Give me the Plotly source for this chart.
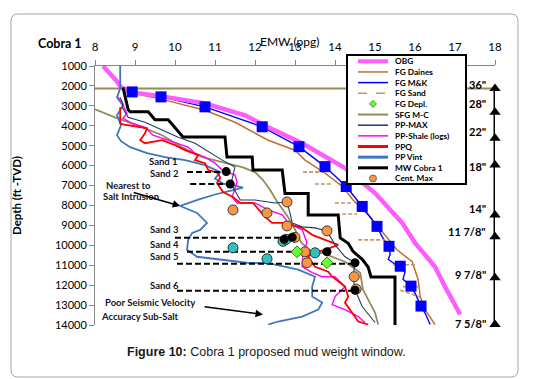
import plotly.graph_objects as go

# ---------------- data (ppg vs depth ft TVD) ----------------
obg_ppg = [8.2, 8.38, 8.53, 8.65, 8.93, 9.68, 10.75, 11.75, 12.33, 13.18, 14.25, 15.0, 15.68, 16.0, 16.5, 16.75, 17.13]
obg_depth = [1000, 1375, 1725, 2075, 2325, 2525, 2875, 3475, 4075, 4875, 6125, 7375, 8875, 9875, 11075, 12075, 13475]

daines_ppg = [8.75, 9.68, 10.75, 11.5, 12.33, 13.0, 13.25, 13.75, 14.2, 14.45, 14.88, 15.2, 15.55, 15.93, 16.08, 16.13, 16.25, 16.5]
daines_depth = [2275, 2675, 3225, 3825, 4725, 5225, 5725, 6375, 7075, 7725, 8575, 9375, 10225, 10825, 11725, 12575, 13225, 13975]

mk_ppg = [8.93, 9.65, 10.75, 12.18, 13.1, 13.75, 14.28, 14.68, 15.05, 15.35, 15.63, 15.9, 16.15]
mk_depth = [2300, 2550, 3050, 4050, 5050, 6050, 7050, 8050, 9050, 10050, 11050, 12050, 13050]
mk_line_ppg = [8.93, 9.65, 10.75, 12.18, 13.1, 13.75, 14.28, 14.68, 15.05, 15.18, 15.35, 15.38, 15.33, 15.5, 15.63,
               15.75, 15.7, 15.83, 15.9, 16.0, 16.05, 16.15, 16.25, 16.38]
mk_line_depth = [2300, 2550, 3050, 4050, 5050, 6050, 7050, 8050, 9050, 9575, 10050, 10450, 10700, 10950, 11050,
                 11350, 11700, 11950, 12050, 12400, 12650, 13050, 13400, 13975]

fgsand_ppg = [13.2, 13.7, None, 13.5, 13.95, None, 14.0, 14.43, None, 14.18, 14.55, None, 14.58, 15.25, None,
              15.45, 16.0, None, 15.7, 16.08, None, 15.63, 16.13]
fgsand_depth = [6325, 6325, None, 6925, 6925, None, 7875, 7875, None, 8425, 8425, None, 9725, 9725, None,
                10975, 10975, None, 12075, 12075, None, 12250, 12600]

depl_ppg = [13.05, 13.8]
depl_depth = [10325, 10875]

sfg_ppg = [8.0, 8.5, 9.25, 9.68, 10.18, 10.68, 11.18, 11.68, 12.0, 12.2, 12.38, 12.55, 12.8, 13.0, 13.15, 13.4,
           13.7, 14.25, 14.63, 14.7, 14.83, 15.0, 15.08]
sfg_depth = [3175, 3575, 4125, 4475, 5075, 5575, 5825, 6075, 6325, 6725, 7225, 7800, 8500, 9200, 9850, 10300,
             10400, 10825, 11375, 12225, 12725, 13375, 13975]
mudline_depth = 2125

ppmax_ppg = [8.63, 8.7, 8.68, 8.83, 9.25, 10.08, 10.5, 11.18, 11.5, 11.4, 11.63, 12.0, 12.5, 12.8, 12.88, 12.93,
             13.18, 13.5, 13.8, 14.0, 14.25, 14.5, 14.45, 14.5, 14.68, 15.0]
ppmax_depth = [2575, 2900, 3075, 3575, 3825, 4575, 4875, 5725, 6075, 6900, 7725, 7725, 7875, 7825, 8425, 8875,
               9075, 9125, 9275, 9975, 10575, 10875, 11575, 12225, 13075, 13875]

shale_ppg = [8.58, 8.68, 8.8, 8.7, 8.93, 9.25, 9.45, 9.68, 10.0, 10.33, 10.5, 10.75, 11.0, 11.18, 11.5, 11.55,
             11.43, 11.55, 12.0, 12.33, 12.68, 12.83, 13.18, 13.3, 13.2, 13.18, 13.43, 13.68, 14.0, 14.25, 14.0,
             13.93, 14.25, 14.58, 14.75]
shale_depth = [2575, 2875, 3375, 3625, 3875, 4075, 4475, 4625, 4825, 5075, 5375, 5575, 5875, 6225, 6475, 6825,
               7575, 7875, 7875, 8225, 8475, 8875, 9225, 9875, 10325, 11075, 11375, 11575, 11575, 12075, 12575,
               12975, 13225, 13575, 13875]

ppq_ppg = [8.63, 8.63, 8.7, 9.18, 9.3, 9.25, 9.13, 9.25, 9.68, 10.0, 10.25, 10.58, 10.5, 10.75, 10.83, 11.08,
           11.13, 11.05, 11.2, 11.45, 11.63, 11.95, 12.25, 12.43, 12.75, 13.18, 13.43, 13.75, 14.08, 13.75, 13.43,
           13.33, 13.5, 13.83, 13.93, 14.25, 14.33, 14.25, 14.43, 14.58, 14.83]
ppq_depth = [3075, 3875, 3925, 4075, 4125, 4375, 4725, 4875, 4725, 4975, 5225, 5475, 5725, 5875, 6225, 6375,
             6625, 6875, 7325, 7575, 7875, 7875, 8575, 8875, 8875, 9125, 9475, 9725, 9975, 10225, 10375,
             10575, 11075, 11325, 11575, 12075, 12575, 12875, 13375, 13825, 13975]

vint_ppg = [8.63, 8.63, 8.55, 8.7, 8.55, 8.65, 8.55, 8.65, 8.88, 9.3, 9.75, 10.25, 10.75, 11.13, 11.0, 11.2, 11.5,
            11.7, 11.4, 11.0, 10.6, 10.13, 10.55, 10.8, 10.63, 10.43, 10.33, 10.3, 10.55, 11.13, 11.8, 12.33,
            13.08, 13.5, 13.43, 13.43, 13.68, 13.58, 13.18, 12.58, 12.33]
vint_depth = [1000, 2125, 2575, 2975, 3475, 3975, 4475, 4775, 5075, 5375, 5575, 5725, 5975, 6325, 6650, 6900, 7000,
              7100, 7250, 7450, 7700, 8025, 8375, 8875, 9225, 9375, 9725, 10225, 10575, 10725, 10875, 10900,
              11225, 11575, 12075, 12575, 12875, 13225, 13575, 13825, 13975]

mw_ppg = [8.7, 8.83, 8.88, 9.33, 9.5, 9.83, 10.2, 11.25, 11.3, 11.93, 11.95, 12.68, 12.75, 13.33, 13.33, 14.08,
          14.13, 14.33, 14.45, 14.68, 14.83, 14.9, 15.5, 15.5]
mw_depth = [2075, 3200, 3300, 3300, 3700, 3700, 4560, 4560, 5570, 5570, 6220, 6220, 7400, 7400, 8480, 8480,
            9630, 9900, 10300, 10700, 11100, 11590, 11590, 14000]

cm_ppg = [11.45, 12.3, 12.8, 12.8, 13.8, 13.0, 13.25, 13.3, 14.48, 14.53]
cm_depth = [8225, 8375, 7825, 9025, 9275, 9600, 10325, 10875, 11575, 12200]

teal_ppg = [11.45, 12.3, 12.7, 12.78, 13.5]
teal_depth = [10125, 10675, 9800, 9700, 10375]

blk_ppg = [11.28, 11.38, 12.73, 12.93, 13.8, 14.5, 14.5]
blk_depth = [6300, 6925, 9700, 9600, 10325, 10875, 12250]

sand_names = ["Sand 1", "Sand 2", "Sand 3", "Sand 4", "Sand 5", "Sand 6"]
sand_depth = [6325, 6925, 9625, 10325, 10925, 12275]
sand_from = [10.3, 10.38, 10.0, 10.3, 10.05, 10.05]
sand_to = [11.28, 11.38, 12.68, 13.83, 14.45, 14.45]

casing_labels = ['36"', '28"', '22"', '18"', '14"', '11 7/8"', '9 7/8"', '7 5/8"']
casing_depth = [2125, 3325, 4625, 5975, 8475, 9575, 11625, 13975]

x_ticks = list(range(8, 19))
y_ticks = list(range(1000, 14001, 1000))

# ---------------- styling ----------------
FONT = "Lato"
C_OBG = "#FF5CFF"
C_DAI = "#C0702C"
C_MK = "#0000FF"
C_SAND = "#C8956A"
C_SFG = "#958B56"
C_MAX = "#1F3864"
C_SHA = "#FF00FF"
C_PPQ = "#FF0000"
C_VINT = "#3F76BF"
C_CM = "#F79646"
C_TEAL = "#33BFBF"
C_DEPL = "#66FF33"

fig = go.Figure()


def add_line(x, y, color, width, dash=None):
    fig.add_trace(go.Scatter(x=x, y=y, mode="lines", showlegend=False, hoverinfo="skip",
                             line=dict(color=color, width=width, dash=dash)))


add_line([8, 18], [mudline_depth, mudline_depth], C_SFG, 2)
add_line(sfg_ppg, sfg_depth, C_SFG, 1.8)
add_line(daines_ppg, daines_depth, C_DAI, 1.5)
add_line(mk_line_ppg, mk_line_depth, C_MK, 1.4)
add_line(fgsand_ppg, fgsand_depth, C_SAND, 1.6, dash="4px,2px")
add_line(obg_ppg, obg_depth, C_OBG, 4.5)
add_line(vint_ppg, vint_depth, C_VINT, 1.8)
add_line(shale_ppg, shale_depth, C_SHA, 1.4)
add_line(ppq_ppg, ppq_depth, C_PPQ, 1.8)
add_line(ppmax_ppg, ppmax_depth, C_MAX, 1.1)
add_line(mw_ppg, mw_depth, "#000000", 3)

# sand markers (dashed)
sx, sy = [], []
for d, a, b in zip(sand_depth, sand_from, sand_to):
    sx += [a, b, None]
    sy += [d, d, None]
add_line(sx, sy, "#000000", 2, dash="6px,3px")

# markers
fig.add_trace(go.Scatter(x=mk_ppg, y=mk_depth, mode="markers", showlegend=False, hoverinfo="skip",
                         marker=dict(symbol="square", size=11, color=C_MK)))
fig.add_trace(go.Scatter(x=teal_ppg, y=teal_depth, mode="markers", showlegend=False, hoverinfo="skip",
                         marker=dict(symbol="circle", size=10, color=C_TEAL, line=dict(color="#1A3A3A", width=1))))
fig.add_trace(go.Scatter(x=cm_ppg, y=cm_depth, mode="markers", showlegend=False, hoverinfo="skip",
                         marker=dict(symbol="circle", size=10, color=C_CM, line=dict(color="#4A3A2A", width=1))))
fig.add_trace(go.Scatter(x=blk_ppg, y=blk_depth, mode="markers", showlegend=False, hoverinfo="skip",
                         marker=dict(symbol="circle", size=9, color="#000000")))
fig.add_trace(go.Scatter(x=depl_ppg, y=depl_depth, mode="markers", showlegend=False, hoverinfo="skip",
                         marker=dict(symbol="diamond", size=9, color=C_DEPL, line=dict(color="#2E7D0E", width=1))))

# casing column
fig.add_trace(go.Scatter(x=[18, 18], y=[casing_depth[0], 14000], mode="lines", showlegend=False,
                         hoverinfo="skip", cliponaxis=False, line=dict(color="#000000", width=3)))
fig.add_trace(go.Scatter(x=[18] * len(casing_depth), y=casing_depth, mode="markers", showlegend=False,
                         hoverinfo="skip", cliponaxis=False,
                         marker=dict(symbol="triangle-up", size=10, color="#000000")))

# ---------------- layout ----------------
L, T, PW, PH = 95, 66, 400, 259


def px(x):
    return (x - L) / PW


def py(y):
    return (T + PH - y) / PH


fig.update_layout(
    width=533, height=379,
    margin=dict(l=L, r=533 - L - PW, t=T, b=379 - T - PH, autoexpand=False),
    paper_bgcolor="white", plot_bgcolor="white",
    font=dict(family=FONT, color="#000000"),
    xaxis=dict(range=[8, 18], side="top", tickvals=x_ticks, ticks="outside", ticklen=5,
               tickcolor="#868686", showline=True, linecolor="#868686", linewidth=1,
               showgrid=False, zeroline=False, tickfont=dict(size=11.5), ticklabelstandoff=4),
    yaxis=dict(range=[14000, 1000], tickvals=y_ticks, tickformat="d", ticks="outside", ticklen=5,
               tickcolor="#868686", showline=True, linecolor="#868686", linewidth=1,
               showgrid=False, zeroline=False, tickfont=dict(size=11)),
)

ann = []


def paper_text(text, x, y, size, angle=0, family=None, color="#000000"):
    f = dict(size=size, color=color)
    if family:
        f["family"] = family
    ann.append(dict(text=text, x=px(x), y=py(y), xref="paper", yref="paper", xanchor="center",
                    yanchor="middle", showarrow=False, textangle=angle, font=f))


paper_text("EMW (ppg)", 289, 42, 12)
paper_text("<b>Cobra 1</b>", 60, 44, 12.5)
paper_text("<b>Depth (ft -TVD)</b>", 16, 196, 11.5, angle=-90)
paper_text("<b>Figure 10:</b> Cobra 1 proposed mud weight window.", 266, 352, 12.5,
           family="Liberation Sans", color="#1a1a1a")

# sand / note labels
notes = [("Sand 1", 9.7, 5775), ("Sand 2", 9.73, 6375), ("Sand 3", 9.73, 9225), ("Sand 4", 9.73, 9975),
         ("Sand 5", 9.73, 10575), ("Sand 6", 9.73, 12025), ("Nearest to", 8.83, 6975),
         ("Salt Intrusion", 8.9, 7575), ("Poor Seismic Velocity", 9.38, 12875),
         ("Accuracy Sub-Salt", 9.13, 13575)]
for t, x, y in notes:
    ann.append(dict(text="<b>%s</b>" % t, x=x, y=y, xref="x", yref="y", xanchor="center", yanchor="middle",
                    showarrow=False, font=dict(size=9.5, color="#141428")))

ann.append(dict(x=10.13, y=8025, ax=8.93, ay=7325, axref="x", ayref="y", xref="x", yref="y", text="",
                showarrow=True, arrowhead=2, arrowsize=1, arrowwidth=1.5, arrowcolor="#000000"))
ann.append(dict(x=12.2, y=13475, ax=10.7, ay=13075, axref="x", ayref="y", xref="x", yref="y", text="",
                showarrow=True, arrowhead=2, arrowsize=1, arrowwidth=1.5, arrowcolor="#000000"))

casing_text_depth = [1925, 2875, 4275, 6025, 8175, 9325, 11475, 13925]
for lab, d in zip(casing_labels, casing_text_depth):
    ann.append(dict(text="<b>%s</b>" % lab, x=17.82, y=d, xref="x", yref="y", xanchor="right",
                    yanchor="middle", showarrow=False, font=dict(size=11)))

# outer rounded frame + custom legend
shapes = []
fx0, fx1, fy0, fy1 = px(11), px(518), py(377), py(14)
rx, ry = 7 / PW, 7 / PH
frame = ("M {a} {b} L {c} {b} Q {x1} {b} {x1} {d} L {x1} {e} Q {x1} {y1} {c} {y1} L {a} {y1} "
         "Q {x0} {y1} {x0} {e} L {x0} {d} Q {x0} {b} {a} {b} Z").format(
    a=fx0 + rx, b=fy0, c=fx1 - rx, d=fy0 + ry, e=fy1 - ry, x0=fx0, x1=fx1, y1=fy1)
shapes.append(dict(type="path", xref="paper", yref="paper", path=frame,
                   line=dict(color="#A6A6A6", width=1), layer="above"))
shapes.append(dict(type="rect", xref="paper", yref="paper", x0=px(347), x1=px(466), y0=py(184), y1=py(55),
                   line=dict(color="#000000", width=2), fillcolor="white", layer="above"))

legend_rows = [("OBG", "line", C_OBG, 4, "solid"), ("FG Daines", "line", C_DAI, 1.5, "solid"),
               ("FG M&amp;K", "line", C_MK, 1.5, "solid"), ("FG Sand", "line", C_SAND, 1.5, "dash"),
               ("FG Depl.", "diamond", C_DEPL, 0, None), ("SFG M-C", "line", C_SFG, 2, "solid"),
               ("PP-MAX", "line", C_MAX, 1.5, "solid"), ("PP-Shale (logs)", "line", C_SHA, 1.5, "solid"),
               ("PPQ", "line", C_PPQ, 3, "solid"), ("PP Vint", "line", C_VINT, 3, "solid"),
               ("MW Cobra 1", "line", "#000000", 3, "solid"), ("Cent. Max", "circle", C_CM, 0, None)]
for i, (name, kind, col, w, dash) in enumerate(legend_rows):
    yy = py(61.3 + i * 10.65)
    if kind == "line":
        shapes.append(dict(type="line", xref="paper", yref="paper", x0=px(358), x1=px(388), y0=yy, y1=yy,
                           line=dict(color=col, width=w, dash=dash), layer="above"))
    elif kind == "circle":
        shapes.append(dict(type="circle", xref="paper", yref="paper", xsizemode="pixel", ysizemode="pixel",
                           xanchor=px(373), yanchor=yy, x0=-3.5, x1=3.5, y0=-3.5, y1=3.5,
                           fillcolor=col, line=dict(color="#555555", width=0.8), layer="above"))
    else:
        shapes.append(dict(type="path", xref="paper", yref="paper", xsizemode="pixel", ysizemode="pixel",
                           xanchor=px(373), yanchor=yy, path="M -3.5 0 L 0 3.5 L 3.5 0 L 0 -3.5 Z",
                           fillcolor=col, line=dict(color="#2E7D0E", width=0.8), layer="above"))
    ann.append(dict(text="<b>%s</b>" % name, x=px(393), y=yy, xref="paper", yref="paper", xanchor="left",
                    yanchor="middle", showarrow=False, font=dict(size=8.3)))

fig.update_layout(annotations=ann, shapes=shapes)
fig.write_html("out.html", config={"displayModeBar": False},
               post_script="document.body.style.margin='0';document.body.style.padding='0';")
